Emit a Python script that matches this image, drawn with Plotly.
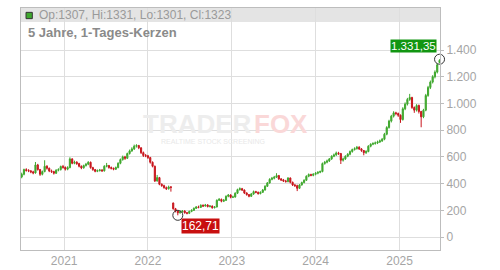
import plotly.graph_objects as go
import pandas as pd

# ---- data (10-day candles) ----
start_date = "2020-06-30"
closes = [470,505,498,495,488,480,540,505,470,490,
          530,515,495,490,478,500,505,528,522,508,
          520,585,552,560,550,530,518,535,545,560,
          520,505,492,498,502,496,530,535,520,515,
          508,520,552,580,600,590,625,645,660,680,
          685,668,632,610,608,595,560,530,420,445,
          395,385,370,362,375,372,212,195,182,190,
          195,182,178,192,200,215,225,222,238,232,
          240,228,232,220,225,275,282,268,275,305,
          315,298,300,328,355,362,352,330,318,305,
          322,340,335,325,335,352,380,405,432,440,
          448,460,435,428,420,415,442,410,390,385,
          365,390,408,425,455,468,462,470,478,485,
          490,550,560,570,585,605,615,630,625,575,
          585,605,620,640,655,662,672,660,648,632,
          640,680,695,700,705,712,720,732,770,820,
          868,905,930,925,912,880,960,995,1030,1045,
          970,950,985,940,900,950,1060,1120,1160,1200,
          1235,1290,1323]
opens = [450,470,505,498,495,488,480,540,505,470,
         490,530,515,495,490,478,500,505,528,522,
         508,520,585,552,560,550,530,518,535,545,
         560,520,505,492,498,502,496,530,535,520,
         515,508,520,552,580,600,590,625,645,660,
         680,685,668,632,610,608,595,560,530,420,
         445,395,385,370,362,375,255,212,195,182,
         190,195,182,178,192,200,215,225,222,238,
         232,240,228,232,220,225,275,282,268,275,
         305,315,298,300,328,355,362,352,330,318,
         305,322,340,335,325,335,352,380,405,432,
         440,448,460,435,428,420,415,442,410,390,
         385,365,390,408,425,455,468,462,470,478,
         485,490,550,560,570,585,605,615,630,625,
         575,585,605,620,640,655,662,672,660,648,
         632,640,680,695,700,705,712,720,732,770,
         820,868,905,930,925,912,880,960,995,1030,
         1045,970,950,985,940,900,950,1060,1120,1160,
         1200,1235,1307]
highs = [482,512,515,508,502,496,562,548,510,498,
         575,538,520,505,496,508,515,535,540,528,
         530,597,590,572,568,556,536,542,555,568,
         565,526,510,506,510,508,538,555,540,528,
         520,528,560,588,610,608,632,655,672,692,
         695,690,672,640,622,615,600,566,535,465,
         450,402,392,378,385,382,258,218,200,198,
         202,200,188,198,208,222,232,235,245,244,
         248,246,240,236,232,282,292,288,285,312,
         322,320,310,335,362,372,368,356,335,322,
         330,348,346,340,342,360,388,412,440,450,
         458,478,465,442,435,428,448,446,415,398,
         392,396,415,432,462,476,474,478,486,492,
         498,558,570,580,592,612,625,640,638,630,
         595,612,628,648,662,672,682,680,666,652,
         650,688,702,710,715,722,730,742,780,830,
         878,915,942,938,932,918,972,1008,1042,1072,
         1050,978,995,992,945,960,1072,1132,1172,1212,
         1248,1300,1331.35]
lows = [440,462,490,486,478,470,475,498,458,462,
        485,505,486,480,468,472,492,498,512,498,
        500,515,545,545,540,522,508,512,528,538,
        512,496,485,486,490,488,490,522,512,506,
        500,502,515,545,572,578,585,618,638,652,
        670,658,622,600,598,585,550,522,412,415,
        388,376,362,352,355,340,205,185,162.71,175,
        182,175,170,172,186,195,210,215,218,225,
        228,222,222,212,214,222,270,260,262,270,
        298,290,292,295,322,348,345,322,310,298,
        300,316,328,318,320,330,348,375,400,425,
        432,442,428,420,412,408,410,402,382,375,
        344,360,385,402,420,448,455,455,462,470,
        478,485,542,552,562,578,598,608,615,547,
        565,578,598,612,632,648,655,652,638,612,
        622,635,672,688,692,696,704,712,725,762,
        812,858,895,912,900,855,872,950,985,1020,
        960,930,940,925,822,890,942,1050,1108,1150,
        1188,1225,1301]
y_ticks = [0, 200, 400, 600, 800, 1000, 1200, 1400]
x_range = ["2020-06-27", "2025-06-26"]
y_range = [-97, 1715]

dates = pd.date_range(start_date, periods=len(closes), freq="10D")

GREEN = "#3fa82e"
RED = "#c8161d"
FONT = "Liberation Sans, Arial, sans-serif"


def de_fmt(v):
    s = f"{v:,.2f}"
    return s.replace(",", "X").replace(".", ",").replace("X", ".")


fig = go.Figure()
fig.add_trace(go.Candlestick(
    x=dates, open=opens, high=highs, low=lows, close=closes,
    increasing=dict(line=dict(color=GREEN, width=1), fillcolor=GREEN),
    decreasing=dict(line=dict(color=RED, width=1), fillcolor=RED),
    hoverinfo="skip", showlegend=False,
))

i_min = lows.index(min(lows))
i_max = highs.index(max(highs))
fig.add_trace(go.Scatter(
    x=[dates[i_min], dates[i_max]], y=[lows[i_min], highs[i_max]],
    mode="markers", cliponaxis=False, showlegend=False, hoverinfo="skip",
    marker=dict(symbol="circle-open", size=10, color="#333333", line=dict(width=1)),
))

fig.add_annotation(x=dates[i_max], y=highs[i_max], text=de_fmt(highs[i_max]),
                   showarrow=False, xanchor="right", yanchor="bottom",
                   xshift=-3, yshift=6, bgcolor="#129612", borderpad=0,
                   font=dict(family=FONT, size=11.5, color="white"))
fig.add_annotation(x=dates[i_min], y=lows[i_min], text=de_fmt(lows[i_min]),
                   showarrow=False, xanchor="left", yanchor="top",
                   xshift=3, yshift=-3, bgcolor="#c80f0f", borderpad=0,
                   font=dict(family=FONT, size=12, color="white"))

# header band
fig.add_shape(type="rect", xref="paper", yref="paper", x0=0, x1=1, y0=0.942, y1=1,
              fillcolor="#e4e4e4", line=dict(width=0), layer="below")
fig.add_shape(type="rect", xref="paper", yref="paper", x0=0.012, x1=0.027, y0=0.956, y1=0.982,
              fillcolor=GREEN, line=dict(width=1, color="#333333"))
fig.add_annotation(xref="paper", yref="paper", x=0.037, y=0.971,
                   text=f"Op:{opens[-1]:.0f}, Hi:{highs[-1]:.0f}, Lo:{lows[-1]:.0f}, Cl:{closes[-1]:.0f}",
                   showarrow=False, xanchor="left", yanchor="middle",
                   font=dict(family=FONT, size=12, color="#9a9a9a"))
fig.add_annotation(xref="paper", yref="paper", x=0.012, y=0.897,
                   text="<b>5 Jahre, 1-Tages-Kerzen</b>",
                   showarrow=False, xanchor="left", yanchor="middle",
                   font=dict(family=FONT, size=13, color="#8a8a8a"))

# watermark
fig.add_annotation(xref="paper", yref="paper", x=0.556, y=0.52, text="<b>TRADER</b>",
                   showarrow=False, xanchor="right", yanchor="middle",
                   font=dict(family=FONT, size=26, color="#ededed"))
fig.add_annotation(xref="paper", yref="paper", x=0.551, y=0.52, text="<b>FOX</b>",
                   showarrow=False, xanchor="left", yanchor="middle",
                   font=dict(family=FONT, size=26, color="#fad8d8"))
fig.add_annotation(xref="paper", yref="paper", x=0.33, y=0.45, text="REALTIME STOCK SCREENING",
                   showarrow=False, xanchor="left", yanchor="middle",
                   font=dict(family=FONT, size=7, color="#e8e8e8"))

fig.update_layout(
    width=500, height=270,
    margin=dict(l=21, r=60, t=8, b=20, autoexpand=False),
    paper_bgcolor="white", plot_bgcolor="white",
    separators=",.",
    showlegend=False,
    font=dict(family=FONT, size=12, color="#a5a5a5"),
    xaxis=dict(type="date", range=x_range, rangeslider=dict(visible=False),
               automargin=False,
               showgrid=True, gridcolor="#dedede", gridwidth=1,
               dtick="M12", tick0="2021-01-01", tickformat="%Y",
               showline=True, linecolor="#bdbdbd", linewidth=1, mirror=True,
               ticks="", tickfont=dict(size=12, color="#a5a5a5"), zeroline=False),
    yaxis=dict(side="right", range=y_range, tickvals=y_ticks, tickformat=",d",
               automargin=False,
               showgrid=True, gridcolor="#dedede", gridwidth=1,
               showline=True, linecolor="#bdbdbd", linewidth=1, mirror=True,
               ticks="outside", ticklen=3, tickcolor="#bdbdbd",
               tickfont=dict(size=12, color="#a5a5a5"), zeroline=False),
)

fig.write_html("out.html")
